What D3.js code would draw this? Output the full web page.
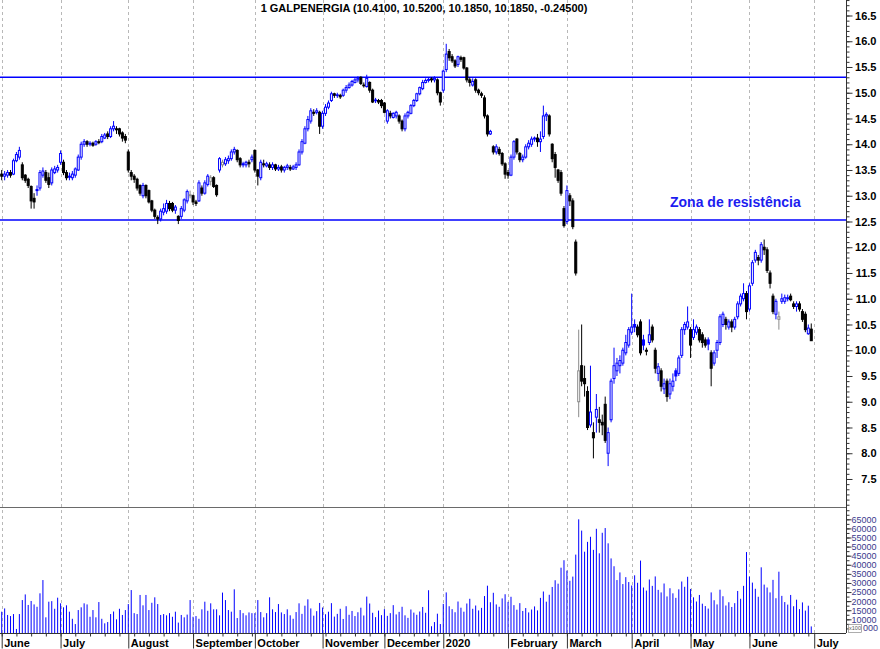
<!DOCTYPE html>
<html><head><meta charset="utf-8">
<script src="https://cdn.jsdelivr.net/npm/d3@7/dist/d3.min.js"></script>
<style>
body{margin:0;background:#fff;}
svg{display:block;font-family:Arial,"Liberation Sans",sans-serif;}
</style></head><body>
<svg id="chart" width="880" height="649"></svg>
<script>
// ---------- DATA ----------
const titleText = "1 GALPENERGIA (10.4100, 10.5200, 10.1850, 10.1850, -0.24500)";
const annotationText = "Zona de resistência";
const resistanceLevels = [15.3, 12.53];

const monthLabels = ["June","July","August","September","October","November","December","2020","February","March","April","May","June","July"];
const monthStartIdx = [0,20,43,65,86,109,130,150,172,192,214,234,254,276];
const weekStartIdx = [0,5,10,15,20,25,30,35,40,45,50,55,60,65,70,75,80,85,90,95,100,105,110,115,120,125,130,135,140,145,148,152,157,162,167,172,177,182,187,192,197,202,207,212,217,221,225,230,234,239,244,249,254,259,264,269,274];
const priceTicks = [7.5,8.0,8.5,9.0,9.5,10.0,10.5,11.0,11.5,12.0,12.5,13.0,13.5,14.0,14.5,15.0,15.5,16.0,16.5];
const volumeTicks = [10000,15000,20000,25000,30000,35000,40000,45000,50000,55000,60000,65000];

const open = [
 13.42,13.38,13.40,13.45,13.42,13.68,13.75,13.60,13.40,13.32,13.18,12.95,13.12,13.15,13.40,13.45,13.35,13.25,13.45,13.50,
 13.65,13.65,13.45,13.38,13.35,13.40,13.50,13.75,14.00,14.05,14.00,14.02,14.00,14.05,14.05,14.12,14.20,14.15,14.30,14.30,14.30,14.22,14.15,
 13.85,13.45,13.38,13.32,13.20,13.00,13.20,13.10,12.90,12.72,12.58,12.55,12.68,12.70,12.85,12.85,12.72,12.60,12.60,12.72,12.90,13.00,
 13.00,12.88,12.90,13.15,13.05,13.22,13.28,13.35,13.20,13.50,13.60,13.62,13.68,13.72,13.85,13.88,13.72,13.62,13.60,13.65,13.70,
 13.88,13.50,13.35,13.62,13.58,13.60,13.55,13.60,13.52,13.56,13.50,13.55,13.55,13.52,13.55,13.60,13.85,14.02,14.30,14.45,14.62,14.62,14.62,
 14.35,14.60,14.72,14.85,14.98,14.95,14.95,14.95,15.05,15.10,15.15,15.20,15.25,15.30,15.15,15.12,15.20,15.05,14.85,14.85,14.85,
 14.80,14.45,14.60,14.52,14.55,14.55,14.45,14.30,14.55,14.60,14.75,14.85,14.98,15.08,15.20,15.24,15.27,15.25,15.25,15.00,
 15.05,15.45,15.80,15.70,15.62,15.55,15.68,15.68,15.48,15.25,15.15,15.25,15.05,14.98,14.90,14.55,14.20,13.95,13.85,13.90,13.82,13.62,
 13.45,13.40,13.75,14.10,13.82,13.70,13.75,13.95,14.00,14.10,14.12,14.05,14.15,14.55,14.55,14.00,13.80,13.50,13.45,12.75,
 12.50,13.00,12.90,12.10,9.00,9.70,9.45,9.20,8.55,8.40,8.70,8.65,8.60,8.95,8.00,8.65,9.45,9.60,9.70,9.75,9.95,10.10,
 10.35,10.50,10.45,10.55,10.20,10.00,10.15,10.45,10.00,9.55,9.60,9.25,9.40,9.15,9.30,9.60,9.55,9.90,10.40,10.45,
 10.40,10.25,10.35,10.40,10.30,10.20,10.20,9.95,9.75,10.00,10.15,10.50,10.60,10.45,10.55,10.45,10.65,10.90,11.00,11.10,
 10.80,11.30,11.75,11.80,11.75,12.00,11.95,11.50,11.05,10.70,10.60,10.95,10.95,11.00,11.05,10.90,10.85,10.90,10.75,10.70,10.32,10.41
];
const high = [
 13.50,13.48,13.50,13.50,13.72,13.85,13.95,13.65,13.42,13.35,13.20,13.05,13.20,13.50,13.55,13.50,13.45,13.55,13.58,13.60,
 13.88,13.70,13.50,13.45,13.48,13.55,13.80,14.05,14.10,14.08,14.06,14.05,14.08,14.10,14.20,14.22,14.25,14.35,14.45,14.35,14.32,14.25,14.20,
 13.90,13.50,13.42,13.35,13.22,13.25,13.22,13.12,12.92,12.75,12.62,12.75,12.85,12.92,12.90,12.88,12.82,12.62,12.80,12.95,13.12,13.10,
 13.02,12.92,13.30,13.20,13.30,13.42,13.40,13.38,13.22,13.75,13.70,13.75,13.78,13.90,13.95,13.90,13.75,13.66,13.68,13.70,13.80,
 13.90,13.52,13.70,13.70,13.66,13.65,13.65,13.62,13.60,13.60,13.58,13.62,13.60,13.60,13.65,13.90,14.10,14.35,14.55,14.70,14.68,14.70,14.65,
 14.65,14.78,14.85,15.02,15.00,15.00,14.98,15.08,15.15,15.20,15.25,15.30,15.32,15.32,15.20,15.35,15.22,15.08,14.90,14.88,14.88,
 14.82,14.68,14.65,14.62,14.65,14.58,14.48,14.60,14.65,14.78,14.88,15.00,15.12,15.25,15.28,15.30,15.30,15.32,15.28,15.02,
 15.45,15.95,15.85,15.75,15.65,15.72,15.72,15.70,15.50,15.30,15.28,15.28,15.08,15.02,14.95,14.58,14.28,13.98,14.00,13.95,13.85,13.65,
 13.50,13.80,14.08,14.12,13.85,13.80,14.00,14.08,14.15,14.15,14.20,14.25,14.75,14.62,14.58,14.02,13.85,13.52,13.50,12.80,
 13.20,13.05,12.95,12.15,10.40,10.50,9.70,9.30,9.70,8.60,9.15,8.90,8.75,9.10,8.50,9.45,10.05,9.85,9.90,10.05,10.30,10.45,
 11.10,10.60,10.50,10.60,10.30,10.05,10.60,10.50,10.05,9.75,9.65,9.45,9.45,9.45,9.55,9.65,9.90,10.45,10.55,10.85,
 10.45,10.60,10.50,10.45,10.35,10.25,10.25,10.00,10.00,10.20,10.70,10.75,10.65,10.60,10.60,10.65,10.95,11.10,11.30,11.15,
 11.30,11.75,11.95,11.85,12.10,12.15,12.00,11.55,11.10,11.00,10.75,11.10,11.08,11.08,11.10,10.95,10.95,10.95,10.80,10.75,10.50,10.52
];
const low = [
 13.30,13.30,13.35,13.35,13.40,13.65,13.70,13.30,13.25,13.15,12.75,12.75,13.00,13.10,13.35,13.25,13.15,13.20,13.42,13.45,
 13.60,13.40,13.30,13.30,13.30,13.35,13.48,13.70,13.95,13.95,13.96,13.95,13.97,14.00,14.02,14.10,14.10,14.12,14.25,14.20,14.15,14.05,14.02,
 13.45,13.30,13.25,13.10,13.00,12.95,12.95,12.85,12.68,12.55,12.45,12.50,12.62,12.65,12.70,12.68,12.65,12.45,12.55,12.68,12.85,12.95,
 12.82,12.80,12.88,13.00,13.02,13.18,13.20,13.15,12.98,13.45,13.55,13.58,13.62,13.68,13.80,13.65,13.55,13.55,13.55,13.55,13.65,
 13.45,13.20,13.30,13.55,13.55,13.50,13.50,13.48,13.48,13.45,13.45,13.50,13.48,13.50,13.50,13.58,13.80,14.00,14.25,14.40,14.55,14.58,14.20,
 14.30,14.55,14.68,14.82,14.90,14.90,14.88,14.92,15.00,15.08,15.12,15.18,15.20,15.15,15.10,15.10,15.00,14.80,14.80,14.78,14.70,
 14.60,14.40,14.50,14.50,14.50,14.40,14.25,14.25,14.50,14.58,14.72,14.82,14.95,15.05,15.18,15.20,15.20,15.20,14.95,14.75,
 15.00,15.40,15.62,15.58,15.48,15.50,15.60,15.45,15.20,15.12,15.12,15.00,14.95,14.90,14.50,14.15,14.18,13.80,13.80,13.78,13.58,13.33,
 13.33,13.38,13.70,13.80,13.65,13.65,13.72,13.90,13.95,14.05,13.95,13.85,14.10,14.45,14.15,13.65,13.35,13.25,13.00,12.38,
 12.45,12.80,12.35,11.45,8.70,9.30,9.10,8.45,8.50,7.90,8.40,8.40,8.35,8.20,7.75,8.60,9.35,9.50,9.55,9.70,9.90,10.05,
 10.30,10.35,10.25,9.90,10.00,9.90,10.10,10.15,9.55,9.40,9.20,9.15,9.00,9.05,9.20,9.40,9.50,9.85,10.30,10.40,
 9.85,10.20,10.30,10.15,10.05,10.05,10.00,9.30,9.70,9.85,10.10,10.45,10.40,10.40,10.35,10.40,10.60,10.85,10.95,10.60,
 10.75,11.25,11.70,11.65,11.70,11.85,11.50,11.20,10.70,10.60,10.40,10.90,10.90,10.95,10.95,10.80,10.75,10.75,10.55,10.35,10.30,10.185
];
const close = [
 13.38,13.42,13.45,13.40,13.68,13.80,13.88,13.35,13.30,13.20,12.90,12.88,13.10,13.45,13.48,13.30,13.22,13.50,13.52,13.55,
 13.82,13.45,13.35,13.36,13.42,13.52,13.75,14.00,14.05,14.00,14.02,13.98,14.05,14.03,14.15,14.18,14.15,14.30,14.35,14.28,14.20,14.12,14.08,
 13.50,13.38,13.32,13.15,13.05,13.20,13.00,12.88,12.72,12.60,12.55,12.70,12.75,12.85,12.75,12.72,12.78,12.52,12.75,12.92,13.08,13.02,
 12.88,12.85,13.25,13.05,13.25,13.38,13.35,13.18,13.02,13.72,13.65,13.70,13.72,13.85,13.90,13.70,13.60,13.60,13.65,13.62,13.75,
 13.50,13.38,13.65,13.60,13.62,13.55,13.60,13.52,13.55,13.50,13.55,13.58,13.52,13.56,13.60,13.85,14.05,14.30,14.48,14.65,14.60,14.65,14.35,
 14.60,14.72,14.80,14.98,14.95,14.96,14.92,15.05,15.10,15.15,15.22,15.25,15.28,15.18,15.14,15.28,15.05,14.82,14.86,14.82,14.75,
 14.62,14.65,14.55,14.60,14.62,14.45,14.30,14.55,14.62,14.75,14.85,14.98,15.10,15.20,15.24,15.26,15.25,15.28,15.00,14.82,
 15.42,15.75,15.68,15.62,15.52,15.70,15.65,15.48,15.25,15.20,15.22,15.05,15.00,14.95,14.55,14.20,14.25,13.85,13.95,13.82,13.62,13.42,
 13.40,13.75,14.05,13.85,13.70,13.75,13.95,14.02,14.10,14.12,14.05,14.10,14.55,14.58,14.20,13.72,13.55,13.30,13.05,12.42,
 13.10,12.90,12.40,11.50,9.60,9.40,9.35,8.50,8.80,8.30,8.85,8.60,8.55,8.25,8.40,9.40,9.70,9.75,9.80,10.00,10.15,10.40,
 10.45,10.45,10.30,9.95,10.10,9.98,10.30,10.20,9.65,9.68,9.30,9.35,9.10,9.35,9.40,9.50,9.85,10.40,10.50,10.55,
 10.10,10.40,10.45,10.20,10.15,10.10,10.12,9.65,9.95,10.15,10.65,10.70,10.50,10.55,10.45,10.60,10.90,11.05,11.10,10.75,
 11.25,11.70,11.90,11.75,12.05,11.95,11.55,11.30,10.75,10.95,10.65,11.00,11.02,11.02,10.98,10.85,10.90,10.80,10.60,10.40,10.43,10.185
];
const volume = [
 14200,16000,12400,11800,12900,4700,12900,20600,23700,17900,20100,18200,16900,24300,31600,11100,19700,20000,15800,21900,
 18800,16600,17700,14200,10300,7400,15100,16600,18800,18200,11400,15100,11100,19500,10300,7800,8500,12900,14300,10000,15800,12400,15100,
 18400,26100,13400,12900,23400,17700,23400,15100,19100,22100,18400,12400,12900,12200,13400,11400,14200,8200,12400,11100,12600,20600,
 11400,11800,10300,15500,19700,14700,18800,15500,15500,12200,24700,20600,15100,14200,26500,10700,15100,13400,12200,13800,13400,
 13400,20600,14000,11100,13400,22100,15500,14000,18400,13800,12900,15500,12200,10300,14000,18800,13000,17500,21000,16000,12000,14500,19000,
 16500,12800,14200,18900,11500,13000,15800,10200,17200,12500,14600,11800,13900,16400,12100,22500,18700,13600,11200,14800,12300,
 15600,11900,13400,17800,12700,14100,16900,12200,10800,15400,13700,12500,14300,16800,13600,26000,6200,8500,13100,7400,
 18500,24800,17200,15600,13900,19800,16400,14200,18700,21300,15800,17600,14900,16300,22800,28500,19400,24600,18200,16900,21500,23800,
 19600,22400,17800,15300,18900,14600,16200,13800,15400,17100,14900,21800,25300,19700,23500,27800,31500,29600,38400,42500,
 36800,31200,33500,45600,65000,58800,47200,52600,55400,48200,59800,46300,57600,60200,51800,43500,39200,31600,35800,29400,33200,30500,
 28600,34200,30100,42300,27500,25800,31900,28400,33600,26200,24800,29700,22600,27100,24300,21800,26500,30800,27900,33400,
 26700,22100,19800,23400,18600,17300,15900,24800,20500,18200,26300,22700,17600,19400,16800,18900,25600,21300,28400,47000,
 33500,30200,26800,22400,38600,29100,27500,24800,31700,21600,36200,22900,19500,18100,23400,17200,20800,15600,19300,14800,17500,6100
];

// ---------- LAYOUT ----------
const svg = d3.select("#chart");
const plotRight = 846, priceTop = 0, priceBottom = 507, volTop = 507, volBottom = 633;
const n = close.length;
const BLUE = "#0000ff", BLACK = "#000000", GRAY = "#8a8a8a";

const x = d3.scaleLinear().domain([-0.577, 286.8]).range([0, plotRight]);
const yP = d3.scaleLinear().domain([6.956, 16.801]).range([priceBottom, priceTop]);
const yV = d3.scaleLinear().domain([2475, 71775]).range([volBottom, volTop]);

svg.append("rect").attr("width",880).attr("height",649).attr("fill","#fff");

// month grid lines
svg.append("g").selectAll("line").data(monthStartIdx).join("line")
  .attr("x1", d => Math.round(x(d)) + 0.5).attr("x2", d => Math.round(x(d)) + 0.5)
  .attr("y1", 0).attr("y2", volBottom)
  .attr("stroke", "#b8b8b8").attr("stroke-dasharray", "3,3");

// resistance lines
svg.append("g").selectAll("line").data(resistanceLevels).join("line")
  .attr("x1", 0).attr("x2", plotRight)
  .attr("y1", d => yP(d)).attr("y2", d => yP(d))
  .attr("stroke", BLUE).attr("stroke-width", 1.6);

// candles
const days = d3.range(n).map(i => ({i, o: open[i], h: high[i], l: low[i], c: close[i],
  pc: i > 0 ? close[i-1] : open[i]}));
function strokeCol(d){
  const up = d.c >= d.pc;
  if (up) return BLUE;
  return d.c > d.o ? GRAY : BLACK;
}
function fillCol(d){
  if (d.c > d.o) return "#ffffff";
  return strokeCol(d);
}
const cg = svg.append("g");
cg.selectAll("line.wick").data(days).join("line").attr("class","wick")
  .attr("x1", d => x(d.i)).attr("x2", d => x(d.i))
  .attr("y1", d => yP(d.h)).attr("y2", d => yP(d.l))
  .attr("stroke", strokeCol).attr("stroke-width", 1);
cg.selectAll("rect.body").data(days).join("rect").attr("class","body")
  .attr("x", d => x(d.i) - 1).attr("width", 2)
  .attr("y", d => yP(Math.max(d.o, d.c)))
  .attr("height", d => Math.max(0.8, Math.abs(yP(d.o) - yP(d.c))))
  .attr("fill", fillCol).attr("stroke", strokeCol).attr("stroke-width", 1);

// volume bars
svg.append("g").selectAll("rect").data(volume).join("rect")
  .attr("x", (d,i) => x(i) - 0.5).attr("width", 1)
  .attr("y", d => yV(d)).attr("height", d => volBottom - yV(d))
  .attr("fill", BLUE);

// panel separator & frame
svg.append("line").attr("x1",0).attr("x2",plotRight).attr("y1",volTop+0.5).attr("y2",volTop+0.5)
  .attr("stroke","#6a6a6a").attr("stroke-width",1.2);
svg.append("line").attr("x1",0).attr("x2",plotRight).attr("y1",volBottom+0.5).attr("y2",volBottom+0.5)
  .attr("stroke","#333").attr("stroke-width",1);
svg.append("line").attr("x1",plotRight+0.5).attr("x2",plotRight+0.5).attr("y1",0).attr("y2",volBottom)
  .attr("stroke","#333").attr("stroke-width",1);

// price axis
const pMinor = svg.append("g").attr("transform",`translate(${plotRight+0.5},0)`)
  .call(d3.axisRight(yP).tickValues(d3.range(70,169).map(v => v/10)).tickSize(3).tickFormat(""));
pMinor.select(".domain").remove();
pMinor.selectAll("line").attr("stroke","#333");
const pAxis = svg.append("g").attr("transform",`translate(${plotRight+0.5},0)`)
  .call(d3.axisRight(yP).tickValues(priceTicks).tickSize(6).tickFormat(d3.format(".1f")));
pAxis.select(".domain").remove();
pAxis.selectAll("line").attr("stroke","#333");
pAxis.selectAll("text").attr("x", 30).attr("text-anchor","end")
  .style("font-family","Arial, 'Liberation Sans', sans-serif").style("font-size","11px").style("font-weight","bold").attr("fill","#000");

// volume axis
const vMinor = svg.append("g").attr("transform",`translate(${plotRight+0.5},0)`)
  .call(d3.axisRight(yV).tickValues(d3.range(5000, 70001, 2500)).tickSize(3).tickFormat(""));
vMinor.select(".domain").remove();
vMinor.selectAll("line").attr("stroke","#333");
const vAxis = svg.append("g").attr("transform",`translate(${plotRight+0.5},0)`)
  .call(d3.axisRight(yV).tickValues(volumeTicks).tickSize(5).tickFormat(d3.format("d")));
vAxis.select(".domain").remove();
vAxis.selectAll("line").attr("stroke","#333");
vAxis.selectAll("text").attr("x", 30).attr("text-anchor","end")
  .style("font-family","Arial, 'Liberation Sans', sans-serif").style("font-size","9px").attr("fill","#3a3a8c");
// bottom multiplier box "x100" followed by "000"
svg.append("rect").attr("x",848.5).attr("y",yV(5000)-4).attr("width",13).attr("height",8)
  .attr("fill","#fff").attr("stroke","#777").attr("stroke-width",0.6);
svg.append("text").attr("x",855).attr("y",yV(5000)+2).attr("text-anchor","middle")
  .style("font-size","5.5px").attr("fill","#555").text("x100");
svg.append("text").attr("x", 863).attr("y", yV(5000)+3).attr("text-anchor","start")
  .style("font-size","9px").attr("fill","#3a3a8c").text("000");

// time axis: weekly minor ticks + month ticks & labels
const wAxis = svg.append("g").attr("transform",`translate(0,${volBottom+0.5})`)
  .call(d3.axisBottom(x).tickValues(weekStartIdx).tickSize(3).tickFormat(""));
wAxis.select(".domain").remove();
wAxis.selectAll("line").attr("stroke","#333");
const mAxis = svg.append("g").attr("transform",`translate(0,${volBottom+0.5})`)
  .call(d3.axisBottom(x).tickValues(monthStartIdx).tickSize(15).tickFormat((d,i) => monthLabels[i]));
mAxis.select(".domain").remove();
mAxis.selectAll("line").attr("stroke","#333");
mAxis.selectAll("text").attr("x", 2).attr("y", 13).attr("dy", 0).attr("text-anchor","start")
  .style("font-family","Arial, 'Liberation Sans', sans-serif").style("font-size","11px").style("font-weight","bold").attr("fill","#000");

// title
svg.append("text").attr("x", 424).attr("y", 12).attr("text-anchor","middle")
  .style("font-size","11px").style("font-weight","bold").attr("fill","#000").text(titleText);

// annotation
svg.append("text").attr("x", 670).attr("y", 207)
  .style("font-size","14px").style("font-weight","bold").attr("fill","#1c1cf0").text(annotationText);
</script>
</body></html>
